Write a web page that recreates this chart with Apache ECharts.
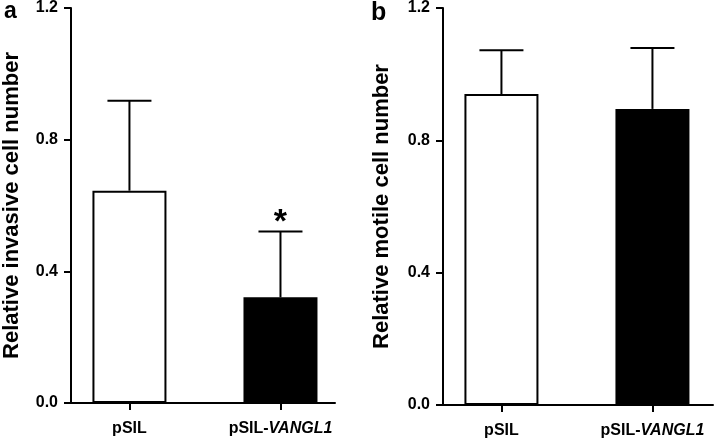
<!DOCTYPE html>
<html>
<head>
<meta charset="utf-8">
<script src="https://cdn.jsdelivr.net/npm/echarts@6/dist/echarts.min.js"></script>
<style>
html,body{margin:0;padding:0;background:#fff;}
#chart{width:714px;height:442px;}
</style>
</head>
<body>
<div id="chart"></div>
<script>
// ---- data ----
var categories = ['pSIL', 'pSIL-VANGL1'];
var invasiveMean = [0.645, 0.321];
var invasiveErr = [0.273, 0.200];
var invasiveSig = ['', '*'];
var motileMean = [0.940, 0.895];
var motileErr = [0.132, 0.184];
var motileSig = ['', ''];
var panelLabels = ['a', 'b'];
var yNames = ['Relative invasive cell number', 'Relative motile cell number'];
var barColors = ['#ffffff', '#000000'];

var FONT = '"Liberation Sans", Arial, sans-serif';

function catLabel(v) {
  var name = categories[Math.round(v)];
  if (name === undefined) return '';
  var i = name.indexOf('-');
  if (i < 0) return '{n|' + name + '}';
  return '{n|' + name.slice(0, i + 1) + '}{i|' + name.slice(i + 1) + '}';
}

function xAxisCfg(gridIndex, min, max) {
  return {
    type: 'value', gridIndex: gridIndex, min: min, max: max,
    splitLine: {show: false},
    axisLine: {show: true, onZero: false, lineStyle: {color: '#000', width: 2}},
    axisTick: {show: true, customValues: [0, 1], length: 7, lineStyle: {color: '#000', width: 2}},
    axisLabel: {
      show: true, customValues: [0, 1], margin: 18,
      formatter: catLabel,
      rich: {
        n: {fontFamily: FONT, fontWeight: 'bold', fontSize: 16, color: '#000'},
        i: {fontFamily: FONT, fontWeight: 'bold', fontStyle: 'italic', fontSize: 16, color: '#000'}
      }
    }
  };
}

function yAxisCfg(gridIndex, name, gap) {
  return {
    type: 'value', gridIndex: gridIndex, min: 0, max: 1.2, interval: 0.4,
    name: name, nameLocation: 'middle', nameRotate: 90, nameGap: gap,
    nameTextStyle: {fontFamily: FONT, fontWeight: 'bold', fontSize: 22, color: '#000'},
    splitLine: {show: false},
    axisLine: {show: true, onZero: false, lineStyle: {color: '#000', width: 2}},
    axisTick: {show: true, length: 7, lineStyle: {color: '#000', width: 2}},
    axisLabel: {
      margin: 13, fontFamily: FONT, fontWeight: 'bold', fontSize: 16, color: '#000',
      formatter: function (v) { return v.toFixed(1); }
    }
  };
}

function barData(means) {
  return means.map(function (m, i) {
    return {value: [i, m], itemStyle: {color: barColors[i]}};
  });
}

function errData(means, errs, sig) {
  return means.map(function (m, i) { return [i, m, m + errs[i], sig[i]]; });
}

function renderErr(params, api) {
  var x = api.value(0);
  var lo = api.coord([x, api.value(1)]);
  var hi = api.coord([x, api.value(2)]);
  var sig = api.value(3);
  var half = 22;
  var children = [
    {type: 'line', shape: {x1: lo[0], y1: lo[1], x2: hi[0], y2: hi[1]}, style: {stroke: '#000', lineWidth: 2}},
    {type: 'line', shape: {x1: hi[0] - half, y1: hi[1], x2: hi[0] + half, y2: hi[1]}, style: {stroke: '#000', lineWidth: 2}}
  ];
  if (sig) {
    children.push({type: 'text', x: hi[0], y: hi[1] + 8,
      style: {text: sig, fontFamily: FONT, fontWeight: 'bold', fontSize: 34, fill: '#000',
              align: 'center', verticalAlign: 'bottom'}});
  }
  return {type: 'group', children: children};
}

var chart = echarts.init(document.getElementById('chart'), null, {renderer: 'canvas'});
chart.setOption({
  animation: false,
  backgroundColor: '#fff',
  title: [
    {text: panelLabels[0], left: -1, top: -5, textStyle: {fontFamily: FONT, fontWeight: 'bold', fontSize: 23, color: '#000'}},
    {text: panelLabels[1], left: 366, top: -4, textStyle: {fontFamily: FONT, fontWeight: 'bold', fontSize: 25, color: '#000'}}
  ],
  grid: [
    {left: 71, top: 7, width: 264, height: 396},
    {left: 443, top: 8, width: 270, height: 397}
  ],
  xAxis: [xAxisCfg(0, -0.387, 1.361), xAxisCfg(1, -0.387, 1.401)],
  yAxis: [yAxisCfg(0, yNames[0], 48), yAxisCfg(1, yNames[1], 50)],
  series: [
    {type: 'bar', xAxisIndex: 0, yAxisIndex: 0, barWidth: 74, data: barData(invasiveMean),
     itemStyle: {borderColor: '#000', borderWidth: 2}},
    {type: 'custom', xAxisIndex: 0, yAxisIndex: 0, renderItem: renderErr, data: errData(invasiveMean, invasiveErr, invasiveSig), z: 5},
    {type: 'bar', xAxisIndex: 1, yAxisIndex: 1, barWidth: 74, data: barData(motileMean),
     itemStyle: {borderColor: '#000', borderWidth: 2}},
    {type: 'custom', xAxisIndex: 1, yAxisIndex: 1, renderItem: renderErr, data: errData(motileMean, motileErr, motileSig), z: 5}
  ]
});
</script>
</body>
</html>
